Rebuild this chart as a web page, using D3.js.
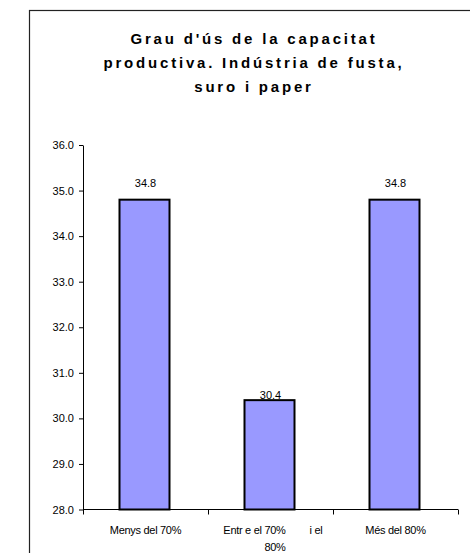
<!DOCTYPE html>
<html><head><meta charset="utf-8">
<script src="https://cdn.jsdelivr.net/npm/d3@7"></script>
<style>
html,body{margin:0;padding:0;background:#fff;overflow:hidden;}
svg{display:block;font-family:"Liberation Sans",Arial,sans-serif;}
</style></head>
<body>
<script>
const titleLines = ["Grau d'ús de la capacitat", "productiva. Indústria de fusta,", "suro i paper"];
const categories = ["Menys del 70%", "Entre el 70% i el 80%", "Més del 80%"];
const values = [34.8, 30.4, 34.8];
const valueLabels = ["34.8", "30.4", "34.8"];
const yTicks = [28, 29, 30, 31, 32, 33, 34, 35, 36];

const W = 470, H = 553;
const svg = d3.select("body").append("svg").attr("width", W).attr("height", H);

// outer frame
svg.append("rect").attr("x", 29.5).attr("y", 10.5).attr("width", 600).attr("height", 700)
  .attr("fill", "#fff").attr("stroke", "#222").attr("stroke-width", 1.2);

// title
const title = svg.append("text").attr("text-anchor", "middle")
  .attr("font-size", 15).attr("font-weight", "bold").attr("letter-spacing", 2.8).attr("fill", "#000");
titleLines.forEach((t, i) => {
  title.append("tspan").attr("x", 254).attr("y", 43.5 + i * 24).text(t);
});

const x0 = 83, x1 = 458, yTop = 145, yBot = 509.5;
const x = d3.scaleBand().domain(categories).range([x0, x1]).paddingInner(0.6).paddingOuter(0.3);
const y = d3.scaleLinear().domain([28, 36]).range([yBot, yTop]);

// y axis
const yAxis = svg.append("g").attr("transform", `translate(${x0},0)`)
  .call(d3.axisLeft(y).tickValues(yTicks).tickFormat(d3.format(".1f")).tickSize(4).tickSizeOuter(0).tickPadding(5));
yAxis.selectAll("path,line").attr("stroke", "#000");
yAxis.selectAll("text").attr("font-size", 11).attr("fill", "#000").attr("font-family", "Liberation Sans, Arial, sans-serif");

// bars
svg.selectAll("rect.bar").data(values).enter().append("rect")
  .attr("class", "bar")
  .attr("x", (d, i) => x(categories[i]) - 1)
  .attr("y", d => y(d))
  .attr("width", x.bandwidth())
  .attr("height", d => y(28) - y(d))
  .attr("fill", "#9999FF").attr("stroke", "#000").attr("stroke-width", 2);

// x axis line and category ticks
svg.append("line").attr("x1", x0).attr("x2", x1).attr("y1", yBot).attr("y2", yBot).attr("stroke", "#000");
const bounds = [x0].concat(categories.map(c => x(c) - x.step() * x.paddingInner() / 2 + x.step()));
svg.selectAll("line.xt").data(bounds).enter().append("line")
  .attr("x1", d => d + 0.5).attr("x2", d => d + 0.5).attr("y1", yBot).attr("y2", yBot + 5).attr("stroke", "#000");

// value labels
const labelDy = [13, 0.8, 13];
svg.selectAll("text.val").data(values).enter().append("text")
  .attr("x", (d, i) => x(categories[i]) + x.bandwidth() / 2)
  .attr("y", (d, i) => y(d) - labelDy[i])
  .attr("text-anchor", "middle").attr("font-size", 11).attr("fill", "#000")
  .text((d, i) => valueLabels[i]);

// category labels
const cx = c => x(c) + x.bandwidth() / 2;
svg.append("text").attr("x", cx(categories[0])).attr("y", 534).attr("text-anchor", "middle")
  .attr("font-size", 11).attr("letter-spacing", -0.3).text(categories[0]);
svg.append("text").attr("x", cx(categories[2])).attr("y", 534).attr("text-anchor", "middle")
  .attr("font-size", 11).attr("letter-spacing", -0.3).text(categories[2]);
// middle label wrapped as in the original
const mid = categories[1];
const m1 = mid.split(" i el")[0].replace("Entre", "Entr e");
const m2 = "i el";
const m3 = mid.split("i el ")[1];
const mc = cx(mid);
svg.append("text").attr("x", mc + 15).attr("y", 534).attr("text-anchor", "end")
  .attr("font-size", 11).attr("letter-spacing", -0.3).text(m1);
svg.append("text").attr("x", mc + 39).attr("y", 534).attr("text-anchor", "start")
  .attr("font-size", 11).attr("letter-spacing", -0.3).text(m2);
svg.append("text").attr("x", mc + 15).attr("y", 551).attr("text-anchor", "end")
  .attr("font-size", 11).attr("letter-spacing", -0.3).text(m3);
</script>
</body></html>
